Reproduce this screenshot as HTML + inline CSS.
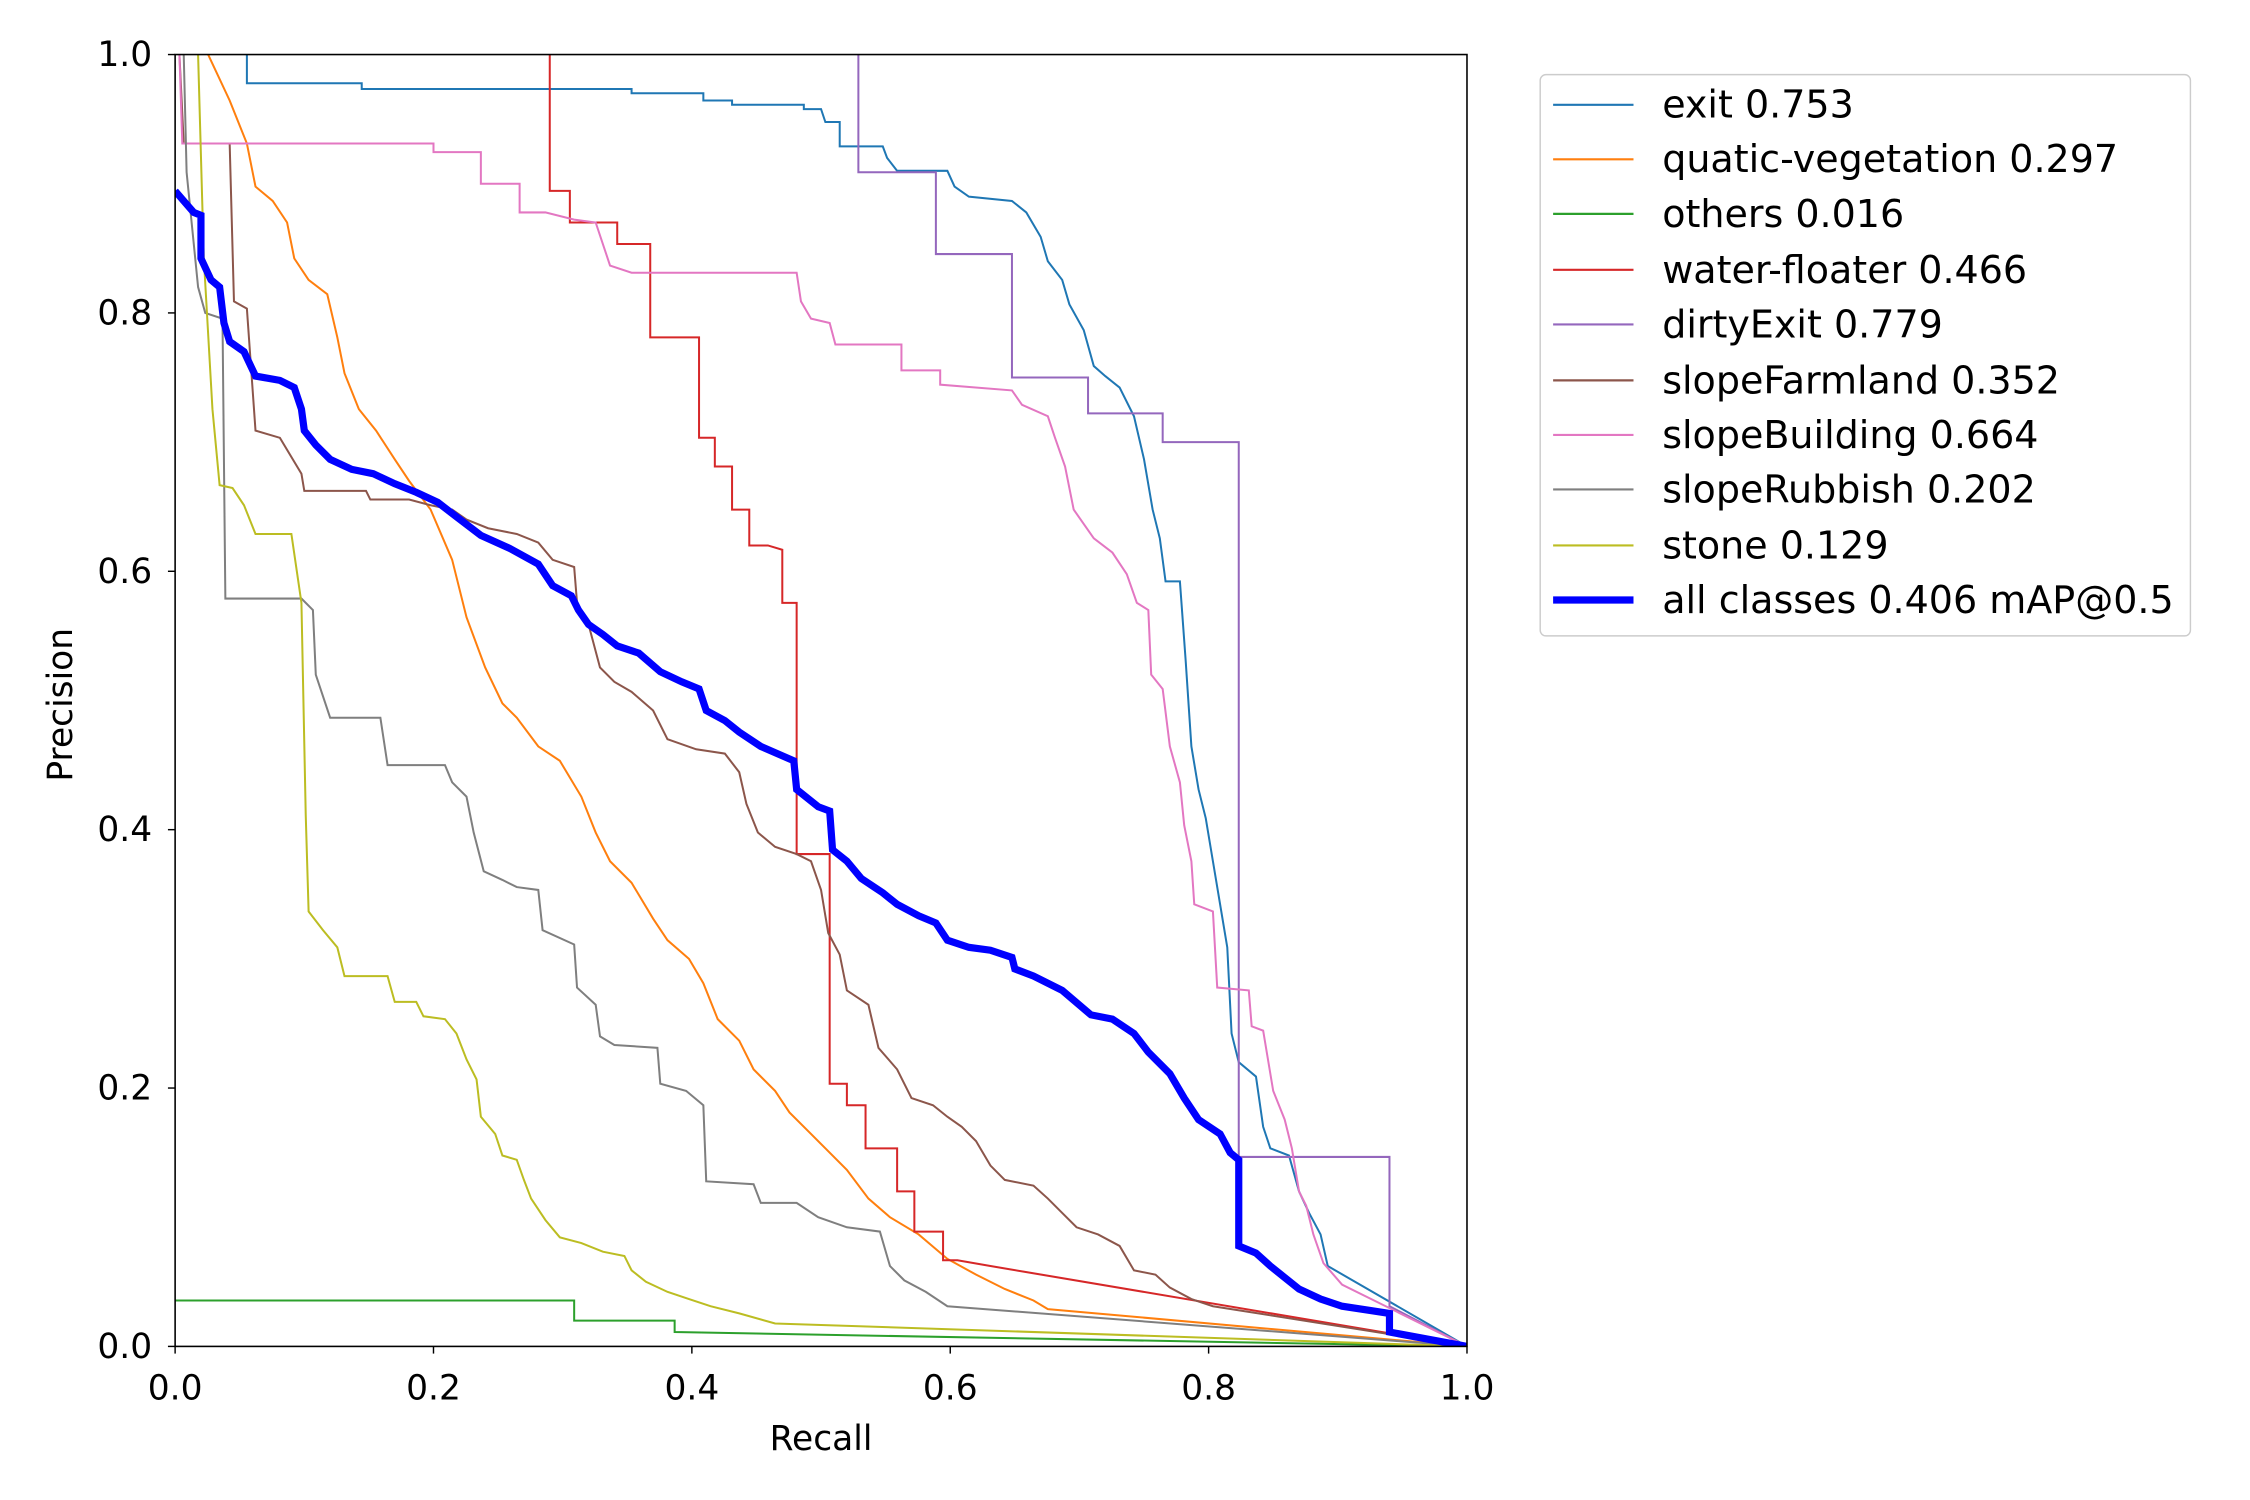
<!DOCTYPE html>
<html><head><meta charset="utf-8"><style>html,body{margin:0;padding:0;background:#fff}svg{display:block}text{font-family:"DejaVu Sans","Liberation Sans",sans-serif;fill:#000}</style></head>
<body>
<svg width="2250" height="1500" viewBox="0 0 1567.5 1045" preserveAspectRatio="none" xmlns="http://www.w3.org/2000/svg">
<rect width="1567.5" height="1045" fill="#fff"/>
<defs><clipPath id="c"><rect x="122" y="38" width="900" height="900"/></clipPath></defs>
<g clip-path="url(#c)" fill="none" stroke-width="1.4" stroke-linejoin="miter">
<polyline stroke="#1f77b4" points="172,38 172,58 252,58 252,62 440,62 440,65 490,65 490,70 510,70 510,73 560,73 560,76 572,76 575,85 585,85 585,102 615,102 618,110 625,119 660,119 665,130 675,137 705,140 715,148 725,165 730,182 740,195 745,212 755,230 762,255 770,262 780,270 790,290 797,320 803,355 808,375 812,405 822,405 826,460 830,520 835,550 840,570 845,600 850,630 855,660 858,720 863,740 875,750 880,785 885,800 898,805 905,830 912,845 920,860 925,882 1022,938"/>
<polyline stroke="#ff7f0e" points="145,38 160,70 172,100 178,130 190,140 200,155 205,180 215,195 228,205 235,235 240,260 250,285 262,300 275,320 285,335 300,355 315,390 325,430 338,465 350,490 360,500 375,520 390,530 405,555 415,580 425,600 440,615 455,640 465,655 480,668 490,685 500,710 515,725 525,745 540,760 550,775 565,790 575,800 590,815 605,835 620,848 640,860 660,877 680,888 700,898 720,906 730,912 1022,938"/>
<polyline stroke="#2ca02c" points="122,906 400,906 400,920 470,920 470,928 1022,938"/>
<polyline stroke="#d62728" points="383,38 383,133 397,133 397,155 408,155 408,155 430,155 430,170 453,170 453,235 487,235 487,305 498,305 498,325 510,325 510,355 522,355 522,380 535,380 545,383 545,420 555,420 555,595 578,595 578,755 590,755 590,770 603,770 603,800 625,800 625,830 637,830 637,858 657,858 657,878 667,878 690,882 1022,938"/>
<polyline stroke="#9467bd" points="598,38 598,120 652,120 652,177 705,177 705,263 758,263 758,288 810,288 810,308 863,308 863,806 968,806 968,910 1022,938"/>
<polyline stroke="#8c564b" points="125,38 128,100 160,100 163,210 172,215 178,300 195,305 210,330 212,342 255,342 258,348 285,348 300,352 315,355 325,362 340,368 360,372 375,378 385,390 400,395 402,420 410,435 418,465 428,475 440,482 455,495 465,515 485,522 505,525 515,538 520,560 528,580 540,590 555,595 565,600 572,620 577,650 585,665 590,690 605,700 612,730 625,745 635,765 650,770 660,778 670,785 680,795 690,812 700,822 720,826 730,835 740,845 750,855 765,860 780,868 790,885 805,888 815,897 830,905 845,910 1022,938"/>
<polyline stroke="#e377c2" points="125,38 127,100 302,100 302,106 335,106 335,128 362,128 362,148 380,148 400,153 415,155 420,170 425,185 440,190 555,190 558,210 565,222 578,225 582,240 628,240 628,258 655,258 655,268 705,272 712,282 730,290 735,305 742,325 748,355 762,375 775,385 785,400 792,420 800,425 802,470 810,480 815,520 822,545 825,575 830,600 832,630 845,635 848,688 870,690 872,715 880,718 887,760 895,780 900,800 905,830 910,840 915,860 922,880 935,895 1022,938"/>
<polyline stroke="#7f7f7f" points="128,38 130,120 138,200 143,218 155,222 157,417 210,417 218,425 220,470 230,500 265,500 270,533 310,533 315,545 325,555 330,580 337,607 350,613 360,618 375,620 378,648 400,658 402,688 415,700 418,722 428,728 458,730 460,755 478,760 490,770 492,823 525,825 530,838 555,838 570,848 590,855 613,858 620,882 630,892 645,900 660,910 1022,938"/>
<polyline stroke="#bcbd22" points="138,38 142,180 148,285 153,338 162,340 170,352 178,372 203,372 210,420 213,568 215,635 225,648 235,660 240,680 270,680 275,698 290,698 295,708 310,710 318,720 325,738 332,752 335,778 345,790 350,805 360,808 365,822 370,835 380,850 390,862 405,866 420,872 435,875 440,885 450,893 465,900 480,905 495,910 515,915 540,922 1022,938"/>
<polyline stroke="#0000ff" stroke-width="5" points="122,133 128,140 135,148 140,150 140,180 147,195 153,200 156,225 160,238 170,245 178,262 195,265 205,270 210,285 212,300 220,310 230,320 245,327 260,330 275,337 290,343 305,350 318,360 335,373 355,382 375,393 385,408 398,415 403,425 410,435 420,442 430,450 445,455 460,468 475,475 487,480 492,495 505,502 515,510 530,520 553,530 555,550 570,562 578,565 580,592 590,600 600,612 615,622 625,630 640,638 652,643 660,655 675,660 690,662 705,667 707,675 720,680 740,690 760,707 775,710 790,720 800,733 815,748 825,765 835,780 850,790 857,803 863,808 863,868 875,873 885,882 895,890 905,898 920,905 935,910 955,913 968,915 968,928 1022,938"/>
</g>
<rect x="122" y="38" width="900" height="900" fill="none" stroke="#000" stroke-width="1.1"/>
<g stroke="#000" stroke-width="1">
<line x1="122" y1="938" x2="122" y2="943"/><line x1="302" y1="938" x2="302" y2="943"/><line x1="482" y1="938" x2="482" y2="943"/><line x1="662" y1="938" x2="662" y2="943"/><line x1="842" y1="938" x2="842" y2="943"/><line x1="1022" y1="938" x2="1022" y2="943"/>
<line x1="117" y1="38" x2="122" y2="38"/><line x1="117" y1="218" x2="122" y2="218"/><line x1="117" y1="398" x2="122" y2="398"/><line x1="117" y1="578" x2="122" y2="578"/><line x1="117" y1="758" x2="122" y2="758"/><line x1="117" y1="938" x2="122" y2="938"/>
</g>
<g font-size="24" text-anchor="middle">
<text x="122" y="975">0.0</text><text x="302" y="975">0.2</text><text x="482" y="975">0.4</text><text x="662" y="975">0.6</text><text x="842" y="975">0.8</text><text x="1022" y="975">1.0</text>
<text x="572" y="1010">Recall</text>
</g>
<g font-size="24" text-anchor="end">
<text x="106" y="46">1.0</text><text x="106" y="226">0.8</text><text x="106" y="406">0.6</text><text x="106" y="586">0.4</text><text x="106" y="766">0.2</text><text x="106" y="946">0.0</text>
</g>
<text font-size="24" text-anchor="middle" transform="translate(50,491) rotate(-90)">Precision</text>
<rect x="1073" y="52" width="453" height="391" rx="4" fill="#fff" stroke="#ccc" stroke-width="1"/>
<g stroke-width="1.5">
<line x1="1082" y1="73" x2="1138" y2="73" stroke="#1f77b4"/>
<line x1="1082" y1="111" x2="1138" y2="111" stroke="#ff7f0e"/>
<line x1="1082" y1="149" x2="1138" y2="149" stroke="#2ca02c"/>
<line x1="1082" y1="188" x2="1138" y2="188" stroke="#d62728"/>
<line x1="1082" y1="226" x2="1138" y2="226" stroke="#9467bd"/>
<line x1="1082" y1="265" x2="1138" y2="265" stroke="#8c564b"/>
<line x1="1082" y1="303" x2="1138" y2="303" stroke="#e377c2"/>
<line x1="1082" y1="341" x2="1138" y2="341" stroke="#7f7f7f"/>
<line x1="1082" y1="380" x2="1138" y2="380" stroke="#bcbd22"/>
<line x1="1082" y1="418" x2="1138" y2="418" stroke="#0000ff" stroke-width="5"/>
</g>
<g font-size="26.5">
<text x="1158" y="82">exit 0.753</text>
<text x="1158" y="120">quatic-vegetation 0.297</text>
<text x="1158" y="158">others 0.016</text>
<text x="1158" y="197">water-floater 0.466</text>
<text x="1158" y="235">dirtyExit 0.779</text>
<text x="1158" y="274">slopeFarmland 0.352</text>
<text x="1158" y="312">slopeBuilding 0.664</text>
<text x="1158" y="350">slopeRubbish 0.202</text>
<text x="1158" y="389">stone 0.129</text>
<text x="1158" y="427">all classes 0.406 mAP@0.5</text>
</g>
</svg>
</body></html>
